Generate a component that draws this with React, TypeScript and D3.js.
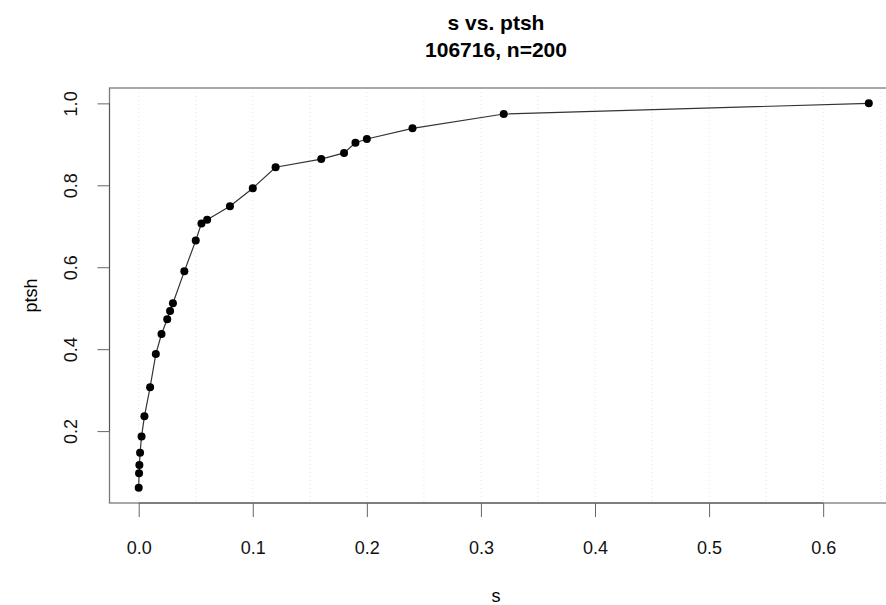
import { useEffect, useRef } from "react";
import * as d3 from "d3";

// s (x) and ptsh (y) values
const sValues = [
  0, 0.0003, 0.0006, 0.0012, 0.0025, 0.005, 0.01, 0.015, 0.02, 0.025, 0.0275,
  0.03, 0.04, 0.05, 0.055, 0.06, 0.08, 0.1, 0.12, 0.16, 0.18, 0.19, 0.2, 0.24,
  0.32, 0.64,
];
const ptshValues = [
  0.062, 0.097, 0.117, 0.147, 0.187, 0.236, 0.307, 0.388, 0.437, 0.473, 0.493,
  0.512, 0.59, 0.665, 0.707, 0.716, 0.749, 0.793, 0.844, 0.864, 0.879, 0.904,
  0.913, 0.939, 0.974, 1.0,
];
const xTicks = [0, 0.1, 0.2, 0.3, 0.4, 0.5, 0.6];
const yTicks = [0.2, 0.4, 0.6, 0.8, 1.0];
const gridX = d3.range(0, 0.66, 0.05);

const title = "s vs. ptsh";
const subtitle = "106716, n=200";

const FONT = "'Liberation Sans', Arial, Helvetica, sans-serif";

// R style axis range: data range plus 4% on each side
const pad = ([lo, hi]: [number, number]) => {
  const d = (hi - lo) * 0.04;
  return [lo - d, hi + d];
};

const App = () => {
  const chartRef = useRef<HTMLDivElement>(null);

  useEffect(() => {
    const width = 886;
    const height = 605;
    const svg = d3
      .select(chartRef.current)
      .append("svg")
      .attr("width", width)
      .attr("height", height)
      .style("display", "block");

    const box = { left: 109.5, right: 898, top: 88, bottom: 503 };

    const x = d3
      .scaleLinear()
      .domain(pad(d3.extent(sValues) as [number, number]))
      .range([box.left, box.right]);
    const y = d3
      .scaleLinear()
      .domain(pad(d3.extent(ptshValues) as [number, number]))
      .range([box.bottom, box.top]);

    svg.append("rect").attr("width", width).attr("height", height).attr("fill", "#fff");

    // faint dotted vertical grid
    svg
      .append("g")
      .selectAll("line")
      .data(gridX)
      .enter()
      .append("line")
      .attr("x1", (d) => x(d))
      .attr("x2", (d) => x(d))
      .attr("y1", box.top)
      .attr("y2", box.bottom)
      .attr("stroke", "#e6e6e6")
      .attr("stroke-width", 1)
      .attr("stroke-dasharray", "1,3");

    // plot box
    svg
      .append("rect")
      .attr("x", box.left)
      .attr("y", box.top)
      .attr("width", box.right - box.left)
      .attr("height", box.bottom - box.top)
      .attr("fill", "none")
      .attr("stroke", "#7a7a7a")
      .attr("stroke-width", 1.3);

    // x axis
    const xAxis = svg
      .append("g")
      .attr("transform", `translate(0,${box.bottom})`)
      .call(
        d3
          .axisBottom(x)
          .tickValues(xTicks)
          .tickSize(14)
          .tickPadding(24)
          .tickFormat(d3.format(".1f"))
      );
    xAxis.select(".domain").attr("d", `M${x(0)},0H${x(0.6)}`).attr("stroke", "#555");
    xAxis.selectAll(".tick line").attr("stroke", "#666");
    xAxis
      .selectAll(".tick text")
      .attr("fill", "#111")
      .style("font-family", FONT)
      .style("font-size", "18px");

    // y axis
    const yAxis = svg
      .append("g")
      .attr("transform", `translate(${box.left},0)`)
      .call(d3.axisLeft(y).tickValues(yTicks).tickSize(12).tickFormat(d3.format(".1f")));
    yAxis.select(".domain").attr("d", `M0,${y(0.2)}V${y(1.0)}`).attr("stroke", "#555");
    yAxis.selectAll(".tick line").attr("stroke", "#666");
    yAxis
      .selectAll(".tick text")
      .attr("x", null)
      .attr("dy", null)
      .attr("transform", "translate(-33,0) rotate(-90)")
      .attr("text-anchor", "middle")
      .attr("fill", "#111")
      .style("font-family", FONT)
      .style("font-size", "18px");

    // line and points
    const pts = sValues.map((s, i) => [s, ptshValues[i]] as [number, number]);
    svg
      .append("path")
      .datum(pts)
      .attr("fill", "none")
      .attr("stroke", "#333")
      .attr("stroke-width", 1.2)
      .attr(
        "d",
        d3
          .line<[number, number]>()
          .x((d) => x(d[0]))
          .y((d) => y(d[1]))
      );
    svg
      .append("g")
      .selectAll("circle")
      .data(pts)
      .enter()
      .append("circle")
      .attr("cx", (d) => x(d[0]))
      .attr("cy", (d) => y(d[1]))
      .attr("r", 4)
      .attr("fill", "#000");

    // titles
    const cx = 496;
    svg
      .append("text")
      .attr("x", cx)
      .attr("y", 30)
      .attr("text-anchor", "middle")
      .style("font-family", FONT)
      .style("font-size", "21px")
      .style("font-weight", "bold")
      .text(title);
    svg
      .append("text")
      .attr("x", cx)
      .attr("y", 57)
      .attr("text-anchor", "middle")
      .style("font-family", FONT)
      .style("font-size", "21px")
      .style("font-weight", "bold")
      .text(subtitle);

    svg
      .append("text")
      .attr("x", cx)
      .attr("y", 602)
      .attr("text-anchor", "middle")
      .style("font-family", FONT)
      .style("font-size", "18px")
      .text("s");
    svg
      .append("text")
      .attr("transform", `translate(37,${(box.top + box.bottom) / 2}) rotate(-90)`)
      .attr("text-anchor", "middle")
      .style("font-family", FONT)
      .style("font-size", "18px")
      .text("ptsh");

    return () => {
      svg.remove();
    };
  }, []);

  return <div ref={chartRef} style={{ position: "absolute", left: 0, top: 0 }}></div>;
};

export default App;
